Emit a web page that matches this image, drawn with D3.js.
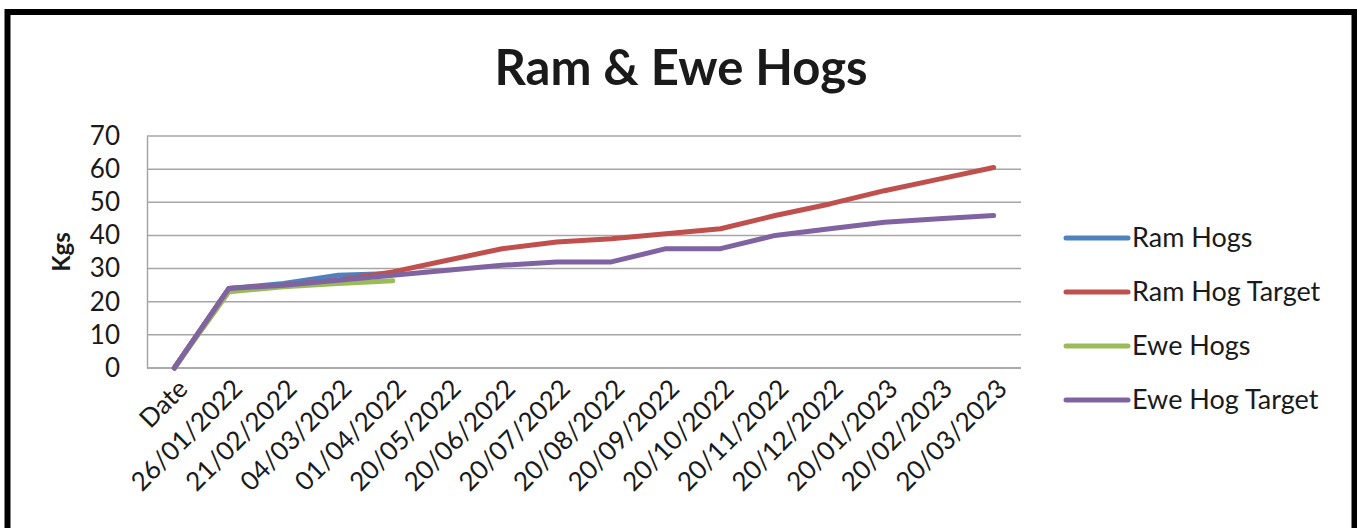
<!DOCTYPE html>
<html>
<head>
<meta charset="utf-8">
<script src="https://d3js.org/d3.v7.min.js"></script>
<style>
  body { margin: 0; background: #fff; }
  text { font-family: Lato, "Open Sans", sans-serif; fill: #1a1a1a; }
</style>
</head>
<body>
<div id="chart"></div>
<script>
let width = 1357;
let height = 528;

// data
let dates = ["Date", "26/01/2022", "21/02/2022", "04/03/2022", "01/04/2022", "20/05/2022",
  "20/06/2022", "20/07/2022", "20/08/2022", "20/09/2022", "20/10/2022", "20/11/2022",
  "20/12/2022", "20/01/2023", "20/02/2023", "20/03/2023"];
let ramHogs = [0, 24, 25.5, 28, 28.5];
let ramHogTarget = [0, 24, 25, 26.5, 29, 32.5, 36, 38, 39, 40.5, 42, 46, 49.5, 53.5, 57, 60.5];
let eweHogs = [0, 23, 24.5, 25.5, 26.3];
let eweHogTarget = [0, 24, 25, 26.5, 28, 29.5, 31, 32, 32, 36, 36, 40, 42, 44, 45, 46];
let yTicks = [0, 10, 20, 30, 40, 50, 60, 70];

let series = [
  {name: "Ram Hogs", values: ramHogs, color: "#4f81bd"},
  {name: "Ram Hog Target", values: ramHogTarget, color: "#c0504d"},
  {name: "Ewe Hogs", values: eweHogs, color: "#9bbb59"},
  {name: "Ewe Hog Target", values: eweHogTarget, color: "#8064a2"}
];

let svg = d3.select("#chart")
  .append("svg")
  .attr("width", width)
  .attr("height", height);

// outer frame (bottom edge is off the picture)
svg.append("rect")
  .attr("x", 7.5).attr("y", 12)
  .attr("width", 1347).attr("height", 600)
  .attr("fill", "none")
  .attr("stroke", "#000")
  .attr("stroke-width", 6);

let plotLeft = 147, plotRight = 1021, plotTop = 136, plotBottom = 368;

let xScale = d3.scalePoint()
  .domain(dates)
  .range([plotLeft, plotRight])
  .padding(0.5);

let yScale = d3.scaleLinear()
  .domain([0, 70])
  .range([plotBottom, plotTop]);

// gridlines
svg.append("g")
  .selectAll("line")
  .data(yTicks)
  .enter()
  .append("line")
  .attr("x1", plotLeft).attr("x2", plotRight)
  .attr("y1", d => yScale(d)).attr("y2", d => yScale(d))
  .attr("stroke", "#a6a6a6")
  .attr("stroke-width", 1.5);

// y axis
let yAxis = svg.append("g")
  .attr("transform", `translate(${plotLeft},0)`)
  .call(d3.axisLeft(yScale).tickValues(yTicks).tickSize(0).tickPadding(27));
yAxis.select(".domain").attr("stroke", "#a6a6a6").attr("stroke-width", 1.5);
yAxis.selectAll("text")
  .style("font-size", "26px")
  .style("font-family", "Lato, sans-serif")
  .attr("fill", "#1a1a1a");

// x axis
let xAxis = svg.append("g")
  .attr("transform", `translate(0,${plotBottom})`)
  .call(d3.axisBottom(xScale).tickSize(0).tickPadding(0));
xAxis.select(".domain").attr("stroke", "#a6a6a6").attr("stroke-width", 1.5)
  .attr("d", `M${plotLeft},0H${plotRight}`);
xAxis.selectAll("text")
  .style("font-size", "26px")
  .style("font-family", "Lato, sans-serif")
  .attr("fill", "#1a1a1a")
  .attr("text-anchor", "end")
  .attr("dy", "0.35em")
  .attr("transform", "translate(8,16) rotate(-45)");

// lines
let lineGenerator = d3.line()
  .x((d, i) => xScale(dates[i]))
  .y(d => yScale(d));

svg.append("g")
  .selectAll("path")
  .data(series)
  .enter()
  .append("path")
  .attr("d", d => lineGenerator(d.values))
  .attr("fill", "none")
  .attr("stroke", d => d.color)
  .attr("stroke-width", 5)
  .attr("stroke-linejoin", "round")
  .attr("stroke-linecap", "round");

// title
svg.append("text")
  .attr("x", 681).attr("y", 85)
  .attr("text-anchor", "middle")
  .style("font-size", "49px")
  .style("font-weight", "bold")
  .attr("fill", "#000")
  .text("Ram & Ewe Hogs");

// y axis title
svg.append("text")
  .attr("transform", "translate(70,252) rotate(-90)")
  .attr("text-anchor", "middle")
  .style("font-size", "24px")
  .style("font-weight", "bold")
  .attr("fill", "#000")
  .text("Kgs");

// legend
let legend = svg.append("g")
  .selectAll("g")
  .data(series)
  .enter()
  .append("g")
  .attr("transform", (d, i) => `translate(1066,${238 + i * 54})`);
legend.append("line")
  .attr("x1", 0).attr("x2", 62)
  .attr("stroke", d => d.color)
  .attr("stroke-width", 5)
  .attr("stroke-linecap", "round");
legend.append("text")
  .attr("x", 66)
  .attr("dy", "0.35em")
  .style("font-size", "27px")
  .text(d => d.name);
</script>
</body>
</html>
